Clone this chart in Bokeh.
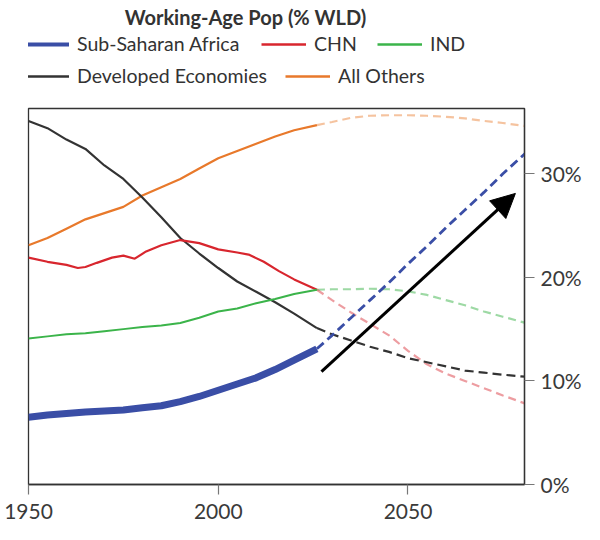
from bokeh.plotting import figure
from bokeh.layouts import column
from bokeh.models import (Range1d, FixedTicker, Legend, LegendItem, Arrow, NormalHead,
                          PrintfTickFormatter, Label)
from bokeh.embed import file_html
from bokeh.resources import INLINE

# ---------------- data ----------------
ssa_hist_x = [1950, 1955, 1960, 1965, 1970, 1975, 1980, 1985, 1990, 1995, 2000, 2005, 2010, 2015, 2020, 2026]
ssa_hist_y = [6.5, 6.7, 6.85, 7.0, 7.1, 7.2, 7.4, 7.6, 8.0, 8.5, 9.1, 9.7, 10.3, 11.1, 12.0, 13.1]
ssa_proj_x = [2026, 2030, 2035, 2040, 2045, 2050, 2055, 2060, 2065, 2070, 2075, 2081]
ssa_proj_y = [13.1, 14.4, 16.1, 17.8, 19.5, 21.3, 23.0, 24.8, 26.5, 28.2, 30.0, 32.0]

chn_hist_x = [1950, 1955, 1960, 1963, 1965, 1968, 1972, 1975, 1978, 1981, 1985, 1990, 1995, 2000, 2005, 2008, 2012, 2016, 2020, 2026]
chn_hist_y = [21.9, 21.5, 21.2, 20.9, 21.0, 21.4, 21.9, 22.1, 21.8, 22.5, 23.1, 23.6, 23.3, 22.7, 22.4, 22.2, 21.5, 20.6, 19.8, 18.8]
chn_proj_x = [2026, 2030, 2035, 2040, 2045, 2050, 2055, 2060, 2065, 2070, 2075, 2081]
chn_proj_y = [18.8, 17.8, 16.6, 15.5, 14.4, 12.9, 11.6, 10.7, 10.0, 9.3, 8.6, 7.8]

ind_hist_x = [1950, 1955, 1960, 1965, 1970, 1975, 1980, 1985, 1990, 1995, 2000, 2005, 2010, 2015, 2020, 2026]
ind_hist_y = [14.1, 14.3, 14.5, 14.6, 14.8, 15.0, 15.2, 15.35, 15.6, 16.1, 16.7, 17.0, 17.5, 17.9, 18.4, 18.8]
ind_proj_x = [2026, 2030, 2035, 2040, 2045, 2050, 2055, 2060, 2065, 2070, 2075, 2081]
ind_proj_y = [18.8, 18.85, 18.85, 18.9, 18.85, 18.65, 18.3, 17.8, 17.3, 16.7, 16.2, 15.6]

dev_hist_x = [1950, 1955, 1960, 1965, 1970, 1975, 1980, 1985, 1990, 1995, 2000, 2005, 2010, 2015, 2020, 2026]
dev_hist_y = [35.1, 34.4, 33.3, 32.4, 30.8, 29.5, 27.7, 25.8, 23.8, 22.3, 20.9, 19.6, 18.6, 17.6, 16.5, 15.1]
dev_proj_x = [2026, 2030, 2035, 2040, 2045, 2050, 2055, 2060, 2065, 2070, 2075, 2081]
dev_proj_y = [15.1, 14.5, 13.9, 13.3, 12.8, 12.2, 11.8, 11.4, 11.0, 10.8, 10.6, 10.4]

oth_hist_x = [1950, 1955, 1960, 1965, 1970, 1975, 1980, 1985, 1990, 1995, 2000, 2005, 2010, 2015, 2020, 2026]
oth_hist_y = [23.1, 23.8, 24.7, 25.6, 26.2, 26.8, 27.9, 28.7, 29.5, 30.5, 31.5, 32.2, 32.9, 33.6, 34.2, 34.7]
oth_proj_x = [2026, 2030, 2035, 2040, 2045, 2050, 2055, 2060, 2065, 2070, 2075, 2081]
oth_proj_y = [34.7, 35.0, 35.4, 35.6, 35.65, 35.65, 35.6, 35.5, 35.35, 35.1, 34.9, 34.6]

arrow_start = (2027.2, 10.9)
arrow_end = (2078.3, 28.1)

x_ticks = [1950, 2000, 2050]
y_ticks = [0, 10, 20, 30]

title_text = "Working-Age Pop (% WLD)"
names = ["Sub-Saharan Africa", "CHN", "IND", "Developed Economies", "All Others"]

# ---------------- styles / layout ----------------
BLUE = "#3a4ea6"
RED = "#d8262e"
GREEN = "#3bb44a"
BLACK = "#333333"
ORANGE = "#e8792b"
FONT = "Lato"
TXT = "#333333"
NAN = float("nan")

W = 584
HEAD_H = 92
FRAME_LEFT = 28          # main plot frame left (header frame is aligned to it)
# legend item anchors: (line start x on the page, row centre y from top of header)
item_pos = [(24, 45), (261, 45), (377, 45), (24, 77), (285, 77)]

# ---------------- header (title + legend) ----------------
head = figure(width=W, height=HEAD_H, output_backend="svg", toolbar_location=None,
              x_range=Range1d(0, 1), y_range=Range1d(0, 1),
              x_axis_type=None, y_axis_type=None, min_border=0)
head.grid.visible = False
head.outline_line_color = None
head.background_fill_color = "white"
head.border_fill_color = "white"

head.add_layout(Label(x=245 - FRAME_LEFT, y=HEAD_H - 16, x_units="screen", y_units="screen",
                      text=title_text, text_font=FONT, text_font_size="20px",
                      text_font_style="bold", text_color=TXT,
                      text_align="center", text_baseline="middle"))

colors = [BLUE, RED, GREEN, BLACK, ORANGE]
widths = [4, 2.3, 2.3, 2.3, 2.3]
dummies = [head.line([NAN], [NAN], line_color=c, line_width=w) for c, w in zip(colors, widths)]

for i, (px, py) in enumerate(item_pos):
    lg = Legend(items=[LegendItem(label=names[i], renderers=[dummies[i]])],
                orientation="horizontal",
                location=(px - FRAME_LEFT, HEAD_H - py - 10))
    lg.label_text_font = FONT
    lg.label_text_font_size = "19.5px"
    lg.label_text_color = TXT
    lg.glyph_width = 45
    lg.glyph_height = 20
    lg.label_height = 20
    lg.label_standoff = 8
    lg.padding = 0
    lg.margin = 0
    lg.border_line_color = None
    lg.background_fill_alpha = 0
    head.add_layout(lg)

# ---------------- main plot ----------------
p = figure(width=W, height=524 - HEAD_H, output_backend="svg", toolbar_location=None,
           x_range=Range1d(1950, 2080.7), y_range=Range1d(0, 36.3),
           y_axis_location="right",
           min_border_left=FRAME_LEFT, min_border_right=60, min_border_top=16, min_border_bottom=40)

p.grid.visible = False
p.outline_line_color = BLACK
p.outline_line_width = 1.3
p.background_fill_color = "white"
p.border_fill_color = "white"

for ax in (p.xaxis[0], p.yaxis[0]):
    ax.axis_line_color = BLACK
    ax.axis_line_width = 1.3
    ax.major_tick_line_color = "#777777"
    ax.major_tick_line_width = 1.2
    ax.major_tick_out = 10
    ax.major_tick_in = 0
    ax.minor_tick_line_color = None
    ax.major_label_text_font = FONT
    ax.major_label_text_font_size = "21px"
    ax.major_label_text_color = "#3a3a3a"
    ax.major_label_standoff = 6

p.xaxis[0].major_label_standoff = 9
p.xaxis[0].ticker = FixedTicker(ticks=x_ticks)
p.yaxis[0].ticker = FixedTicker(ticks=y_ticks)
p.yaxis[0].formatter = PrintfTickFormatter(format="%d%%")

# projections (dashed)
p.line(oth_proj_x, oth_proj_y, line_color=ORANGE, line_alpha=0.45, line_width=2.2, line_dash="8 5")
p.line(ind_proj_x, ind_proj_y, line_color=GREEN, line_alpha=0.5, line_width=2.2, line_dash="8 5")
p.line(chn_proj_x, chn_proj_y, line_color=RED, line_alpha=0.45, line_width=2.2, line_dash="8 5")
p.line(dev_proj_x, dev_proj_y, line_color=BLACK, line_width=2.2, line_dash="9 5")
p.line(ssa_proj_x, ssa_proj_y, line_color=BLUE, line_width=2.8, line_dash="9 5")

# history (solid)
p.line(oth_hist_x, oth_hist_y, line_color=ORANGE, line_width=2.2)
p.line(dev_hist_x, dev_hist_y, line_color=BLACK, line_width=2.2)
p.line(chn_hist_x, chn_hist_y, line_color=RED, line_width=2.2)
p.line(ind_hist_x, ind_hist_y, line_color=GREEN, line_width=2.0)
p.line(ssa_hist_x, ssa_hist_y, line_color=BLUE, line_width=7)

p.add_layout(Arrow(end=NormalHead(size=24, fill_color="black", line_color="black"),
                   x_start=arrow_start[0], y_start=arrow_start[1],
                   x_end=arrow_end[0], y_end=arrow_end[1],
                   line_color="black", line_width=3))

layout = column(head, p, spacing=0)
open("out.html", "w").write(file_html(layout, INLINE))
